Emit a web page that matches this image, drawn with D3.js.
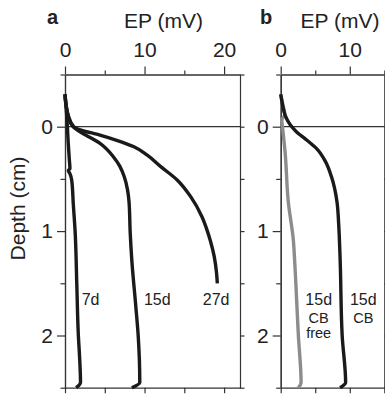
<!DOCTYPE html>
<html>
<head>
<meta charset="utf-8">
<script src="https://cdn.jsdelivr.net/npm/d3@7"></script>
<style>
  body { margin: 0; background: #fff; }
  svg { display: block; font-family: "Liberation Sans", Arial, sans-serif; }
  .axis path, .axis line { stroke: #333; stroke-width: 1.2; }
  .axis text { font-size: 21px; fill: #222; }
</style>
</head>
<body>
<div class="chart"></div>
<script>
// [depth (cm), EP (mV)]
var prof7d = [[-0.31,0],[-0.2,0.12],[-0.1,0.22],[0,0.3],[0.15,0.4],[0.32,0.55],[0.40,0.62],[0.42,0.42],[0.45,0.62],[0.51,0.84],[0.75,1.05],[1.0,1.27],[1.5,1.48],[2.0,1.68],[2.23,1.85],[2.45,1.95],[2.5,1.4]];
var prof15d = [[-0.31,0],[-0.2,0.15],[-0.1,0.4],[0,1.0],[0.04,1.7],[0.08,2.6],[0.16,4.4],[0.29,6.1],[0.38,6.9],[0.48,7.45],[0.6,7.85],[0.72,8.05],[1.02,8.2],[1.28,8.4],[1.72,8.9],[2.0,9.2],[2.45,9.4],[2.5,8.4]];
var prof27d = [[-0.31,0],[-0.2,0.15],[-0.1,0.45],[0,1.1],[0.03,1.9],[0.08,4.4],[0.13,6.5],[0.19,8.6],[0.27,10.3],[0.38,12],[0.51,14.1],[0.67,15.8],[0.86,17.2],[1.0,17.9],[1.1,18.3],[1.24,18.75],[1.4,19.05],[1.5,19.15]];
var profCB = [[-0.31,0],[-0.2,0.3],[-0.11,0.63],[-0.02,1.35],[0.05,2.3],[0.13,3.8],[0.21,5.2],[0.33,6.45],[0.49,7.4],[0.72,8.15],[0.94,8.4],[1.26,8.6],[2.0,8.9],[2.45,9.4],[2.5,8.6]];
var profCBfree = [[-0.31,0],[-0.2,0.35],[-0.12,0.6],[-0.06,0.15],[0,0.25],[0.24,0.63],[0.72,1.1],[1.1,1.85],[1.26,2.0],[2.0,2.56],[2.45,2.95],[2.5,2.56]];

var epTicksA = [0, 10, 20];
var epMinorA = [5, 15];
var epTicksB = [0, 10];
var epMinorB = [5, 15];
var depthTicks = [0, 1, 2];
var depthMinor = [-0.5, 0.5, 1.5, 2.5];

// label text lines, anchored at [depth, EP]
var labelsA = [
  {lines: ["7d"], depth: 1.71, ep: 2.1, anchor: "start"},
  {lines: ["15d"], depth: 1.71, ep: 11.6, anchor: "middle"},
  {lines: ["27d"], depth: 1.71, ep: 19.0, anchor: "middle"}
];
var labelsB = [
  {lines: ["15d", "CB", "free"], depth: 1.71, ep: 5.5, anchor: "middle"},
  {lines: ["15d", "CB"], depth: 1.71, ep: 11.95, anchor: "middle"}
];

var svgWidth = 385;
var svgHeight = 398;
var plotTop = 74.5, plotBottom = 387.7;

var svg = d3.select(".chart")
  .append("svg")
  .attr("width", svgWidth)
  .attr("height", svgHeight);

var y = d3.scaleLinear().domain([-0.5, 2.5]).range([plotTop, plotBottom]);

function drawPanel(opts) {
  var x = d3.scaleLinear().domain(opts.domain).range([opts.left, opts.right]);
  var g = svg.append("g");

  // zero depth line
  g.append("line")
    .attr("x1", opts.left).attr("x2", opts.right)
    .attr("y1", y(0)).attr("y2", y(0))
    .attr("stroke", "#333").attr("stroke-width", 1.2);

  // top axis
  g.append("g").attr("class", "axis")
    .attr("transform", `translate(0, ${plotTop})`)
    .call(d3.axisTop(x).tickValues(opts.ticks).tickSize(8).tickSizeOuter(0))
    .selectAll("text").attr("y", -17.5);
  g.append("g").attr("class", "axis")
    .attr("transform", `translate(0, ${plotTop})`)
    .call(d3.axisTop(x).tickValues(opts.minor).tickSize(4).tickSizeOuter(0).tickFormat(""));

  // bottom axis
  g.append("g").attr("class", "axis")
    .attr("transform", `translate(0, ${plotBottom})`)
    .call(d3.axisBottom(x).tickValues(opts.ticks.concat(opts.minor)).tickSize(5.5).tickSizeOuter(0).tickFormat(""));

  // left axis
  g.append("g").attr("class", "axis")
    .attr("transform", `translate(${opts.left}, 0)`)
    .call(d3.axisLeft(y).tickValues(depthTicks).tickSize(8).tickPadding(4).tickSizeOuter(0).tickFormat(d3.format("d")));
  g.append("g").attr("class", "axis")
    .attr("transform", `translate(${opts.left}, 0)`)
    .call(d3.axisLeft(y).tickValues(depthMinor).tickSize(4.5).tickSizeOuter(0).tickFormat(""));

  // right axis
  g.append("g").attr("class", "axis")
    .attr("transform", `translate(${opts.right}, 0)`)
    .call(d3.axisRight(y).tickValues(depthTicks.concat(depthMinor)).tickSize(4.5).tickSizeOuter(0).tickFormat(""));

  var line = d3.line()
    .x(d => x(d[1]))
    .y(d => y(d[0]))
    .curve(d3.curveMonotoneY);

  opts.series.forEach(function (s) {
    g.append("path")
      .datum(s.data)
      .attr("d", line)
      .attr("fill", "none")
      .attr("stroke", s.color)
      .attr("stroke-width", 3.4)
      .attr("stroke-linejoin", "round");
  });

  opts.labels.forEach(function (l) {
    var t = g.append("text")
      .attr("text-anchor", l.anchor)
      .attr("fill", "#222");
    l.lines.forEach(function (s, i) {
      t.append("tspan")
        .attr("x", x(l.ep))
        .attr("y", y(l.depth) + (i === 0 ? 0 : (i === 1 ? 18 : 33)))
        .attr("font-size", i === 0 ? "16px" : "14.5px")
        .text(s);
    });
  });

  // panel letter and axis title
  g.append("text")
    .attr("x", opts.letterX).attr("y", 24)
    .attr("font-size", "20px").attr("font-weight", "bold")
    .attr("fill", "#222")
    .text(opts.letter);
  g.append("text")
    .attr("x", opts.titleX).attr("y", 28)
    .attr("text-anchor", "middle")
    .attr("font-size", "21px").attr("fill", "#222")
    .text("EP (mV)");
}

drawPanel({
  left: 65, right: 240, domain: [0, 22],
  ticks: epTicksA, minor: epMinorA,
  letter: "a", letterX: 47, titleX: 163.5,
  series: [
    {data: prof7d, color: "#1a1a1a"},
    {data: prof15d, color: "#1a1a1a"},
    {data: prof27d, color: "#1a1a1a"}
  ],
  labels: labelsA
});

drawPanel({
  left: 280.7, right: 384.3, domain: [0, 15],
  ticks: epTicksB, minor: epMinorB,
  letter: "b", letterX: 260, titleX: 340,
  series: [
    {data: profCBfree, color: "#8c8c8c"},
    {data: profCB, color: "#1a1a1a"}
  ],
  labels: labelsB
});

// Depth axis label
svg.append("text")
  .attr("transform", `translate(25, 208.5) rotate(-90)`)
  .attr("text-anchor", "middle")
  .attr("font-size", "21px").attr("fill", "#222")
  .text("Depth (cm)");
</script>
</body>
</html>
